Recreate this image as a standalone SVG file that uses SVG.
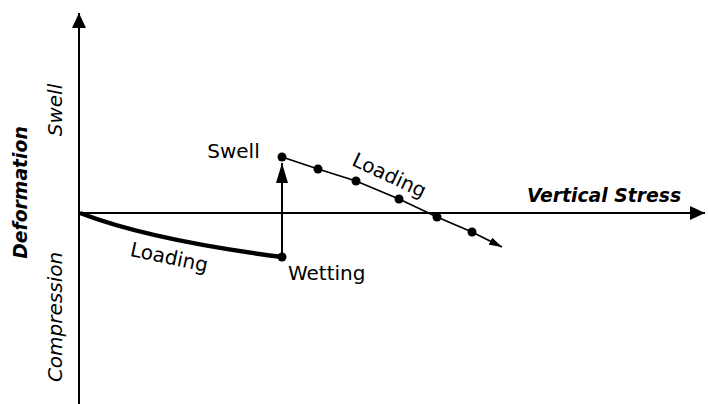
<svg xmlns="http://www.w3.org/2000/svg" width="708" height="404" viewBox="0 0 708 404">
<defs>
<style>
text{font-family:"DejaVu Sans",Verdana,sans-serif;fill:#000}
.lbl{font-size:20px}
.it{font-size:20px;font-style:italic}
.bi{font-size:18.8px;font-style:italic;font-weight:bold}
.ax{stroke:#000;stroke-width:2;fill:none}
.dot{fill:#000}
</style>
<marker id="axh" markerUnits="userSpaceOnUse" markerWidth="16" markerHeight="14" refX="15" refY="7" orient="auto"><path d="M0,0 L15,7 L0,14 Z" fill="#000"/></marker>
<marker id="ah" markerUnits="userSpaceOnUse" markerWidth="20" markerHeight="12" refX="20" refY="6" orient="auto"><path d="M0,0 L20,6 L0,12 Z" fill="#000"/></marker>
<marker id="sh" markerUnits="userSpaceOnUse" markerWidth="13" markerHeight="8" refX="13" refY="4" orient="auto"><path d="M0,0 L13,4 L0,8 Z" fill="#000"/></marker>
</defs>
<rect width="708" height="404" fill="#fff"/>
<g id="axes">
<line class="ax" x1="79" y1="404" x2="79" y2="13" marker-end="url(#axh)"/>
<line class="ax" x1="79" y1="213" x2="705" y2="213" marker-end="url(#axh)"/>
</g>
<g id="connectors">
<path id="loading-curve" d="M80,213 Q150,240 282,257" stroke="#000" stroke-width="4.5" fill="none"/>
<line id="wetting-arrow" x1="282" y1="257" x2="282" y2="163" stroke="#000" stroke-width="2" marker-end="url(#ah)"/>
<polyline id="loading-line" points="282,157 318,169 356,181 399,199 437,217 472,232 502,247" stroke="#000" stroke-width="1.8" fill="none" marker-end="url(#sh)"/>
</g>
<g id="points">
<circle class="dot" cx="282" cy="257" r="4.5"/>
<circle class="dot" cx="282" cy="157" r="4.5"/>
<circle class="dot" cx="318" cy="169" r="4.5"/>
<circle class="dot" cx="356" cy="181" r="4.5"/>
<circle class="dot" cx="399" cy="199" r="4.5"/>
<circle class="dot" cx="437" cy="217" r="4.5"/>
<circle class="dot" cx="472" cy="232" r="4.5"/>
</g>
<g id="labels">
<text class="bi" x="604" y="201.5" text-anchor="middle">Vertical Stress</text>
<text class="bi" transform="translate(26.5,192.5) rotate(-90)" text-anchor="middle">Deformation</text>
<text class="it" transform="translate(61.5,110) rotate(-90)" text-anchor="middle">Swell</text>
<text class="it" transform="translate(61.5,317) rotate(-90)" text-anchor="middle">Compression</text>
<text class="lbl" x="233.5" y="158" text-anchor="middle">Swell</text>
<text class="lbl" x="326.7" y="279.6" text-anchor="middle">Wetting</text>
<text class="lbl" transform="translate(389,176) rotate(25)" y="6" text-anchor="middle">Loading</text>
<text class="lbl" transform="translate(169,258) rotate(12)" y="6" text-anchor="middle">Loading</text>
</g>
</svg>
